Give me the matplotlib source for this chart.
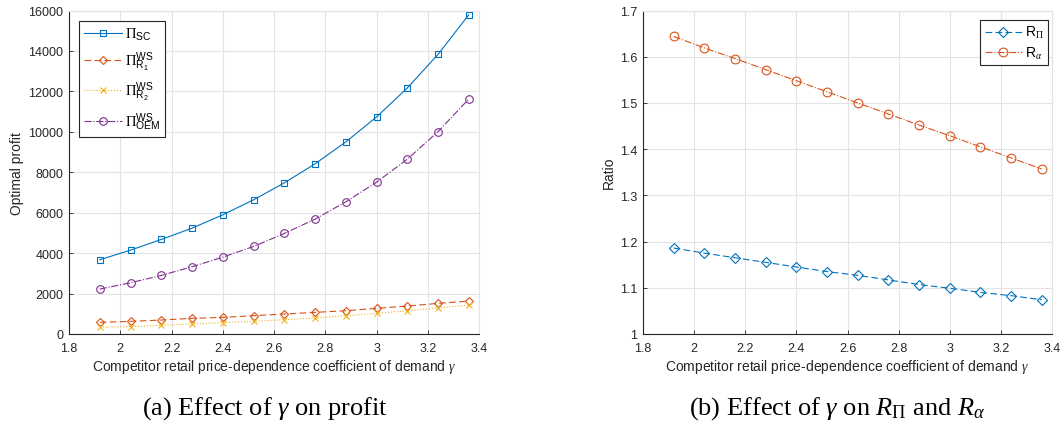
import numpy as np
import matplotlib
matplotlib.use('Agg')
import matplotlib.pyplot as plt

# gamma values on the x axis
gamma = [1.92, 2.04, 2.16, 2.28, 2.40, 2.52, 2.64, 2.76, 2.88, 3.00, 3.12, 3.24, 3.36]

# left panel: optimal profits
pi_sc = [3671, 4148, 4675, 5235, 5893, 6634, 7473, 8412, 9498, 10733, 12165, 13827, 15786]
pi_r1 = [576, 625, 691, 774, 823, 905, 988, 1070, 1152, 1267, 1383, 1514, 1630]
pi_r2 = [329, 362, 428, 494, 560, 625, 708, 790, 905, 1021, 1152, 1284, 1432]
pi_oem = [2222, 2535, 2897, 3325, 3802, 4329, 4971, 5679, 6535, 7506, 8642, 10008, 11621]

# right panel: ratios
r_pi = [1.186, 1.175, 1.165, 1.155, 1.145, 1.135, 1.127, 1.117, 1.107, 1.099, 1.090, 1.083, 1.074]
r_alpha = [1.644, 1.619, 1.596, 1.572, 1.548, 1.524, 1.500, 1.476, 1.452, 1.429, 1.405, 1.381, 1.357]

xticks = [1.8, 2.0, 2.2, 2.4, 2.6, 2.8, 3.0, 3.2, 3.4]
xticklabels = ['1.8', '2', '2.2', '2.4', '2.6', '2.8', '3', '3.2', '3.4']

plt.rcParams['font.family'] = 'Liberation Sans'
plt.rcParams['mathtext.fontset'] = 'custom'
plt.rcParams['mathtext.rm'] = 'Liberation Serif'
plt.rcParams['mathtext.it'] = 'Liberation Serif:italic'
plt.rcParams['mathtext.bf'] = 'Liberation Serif:bold'
plt.rcParams['mathtext.sf'] = 'Liberation Sans'

blue, orange, yellow, purple = '#0072BD', '#D95319', '#EDB120', '#7E2F8E'
dark, light = '#262626', '#e3e3e3'
xlabel = r'Competitor retail price-dependence coefficient of demand $\gamma$'

W, H = 1064, 427
fig = plt.figure(figsize=(W/100, H/100), dpi=100)
ax0 = fig.add_axes([69/W, 1-335/H, 410/W, 323.5/H])
ax1 = fig.add_axes([643/W, 1-335/H, 409/W, 323.5/H])


def style_axes(ax):
    ax.grid(True, color=light, linewidth=0.8)
    ax.set_axisbelow(True)
    for side in ['left', 'bottom']:
        ax.spines[side].set_color(dark)
        ax.spines[side].set_linewidth(0.8)
    for side in ['top', 'right']:
        ax.spines[side].set_color(light)
        ax.spines[side].set_linewidth(0.8)
    ax.tick_params(direction='in', length=3, width=0.6, labelsize=9,
                   colors=dark, top=False, right=False)
    ax.tick_params(axis='x', pad=6)
    ax.tick_params(axis='y', pad=4)
    ax.set_xlim(1.8, 3.4)
    ax.set_xticks(xticks)
    ax.set_xticklabels(xticklabels)
    ax.set_xlabel(xlabel, fontsize=10, color=dark, labelpad=2)


ax0.plot(gamma, pi_sc, '-s', color=blue, mfc='none', ms=4.5, mew=0.8, lw=0.8,
         label=r'$\Pi_{\mathsf{SC}}$')
ax0.plot(gamma, pi_r1, '--D', color=orange, mfc='none', ms=4.5, mew=0.8, lw=0.8,
         dashes=(6, 3), label=r'$\Pi^{\mathsf{WS}}_{\mathsf{R}_{\mathsf{1}}}$')
ax0.plot(gamma, pi_r2, ':x', color=yellow, ms=4.5, mew=0.8, lw=0.8,
         label=r'$\Pi^{\mathsf{WS}}_{\mathsf{R}_{\mathsf{2}}}$')
ax0.plot(gamma, pi_oem, '-.o', color=purple, mfc='none', ms=5.5, mew=0.8, lw=0.8,
         label=r'$\Pi^{\mathsf{WS}}_{\mathsf{OEM}}$')
style_axes(ax0)
ax0.set_ylim(0, 16000)
ax0.set_yticks(range(0, 16001, 2000))
ax0.set_ylabel('Optimal profit', fontsize=10, color=dark, labelpad=3)
leg0 = ax0.legend(loc='upper left', bbox_to_anchor=(0.024, 0.968), fontsize=10.5,
                  fancybox=False, edgecolor=dark, framealpha=1,
                  handlelength=2.6, borderpad=0.35, labelspacing=0.5,
                  handletextpad=0.2, borderaxespad=0)
leg0.get_frame().set_linewidth(0.8)

ax1.plot(gamma, r_pi, '--D', color=blue, mfc='none', ms=5.5, mew=0.8, lw=0.8,
         dashes=(6, 3), label=r'$\mathsf{R}_{\Pi}$')
ax1.plot(gamma, r_alpha, '-.o', color=orange, mfc='none', ms=6.3, mew=0.8, lw=0.8,
         label=r'$\mathsf{R}_{\alpha}$')
style_axes(ax1)
ax1.set_ylim(1, 1.7)
ax1.set_yticks(np.arange(1, 1.71, 0.1))
ax1.set_yticklabels(['1', '1.1', '1.2', '1.3', '1.4', '1.5', '1.6', '1.7'])
ax1.set_ylabel('Ratio', fontsize=10, color=dark, labelpad=3)
leg1 = ax1.legend(loc='upper right', bbox_to_anchor=(0.99, 0.97), fontsize=10,
                  fancybox=False, edgecolor=dark, framealpha=1,
                  handlelength=2.7, borderpad=0.3, labelspacing=0.3,
                  handletextpad=0.2, borderaxespad=0)
leg1.get_frame().set_linewidth(0.8)

fig.text(265/W, 1-409/H, r'(a) Effect of $\gamma$ on profit',
         family='Liberation Serif', fontsize=19, ha='center', va='center')
fig.text(837/W, 1-409/H, r'(b) Effect of $\gamma$ on $R_\Pi$ and $R_\alpha$',
         family='Liberation Serif', fontsize=19, ha='center', va='center')

fig.savefig('out.png', dpi=100)
